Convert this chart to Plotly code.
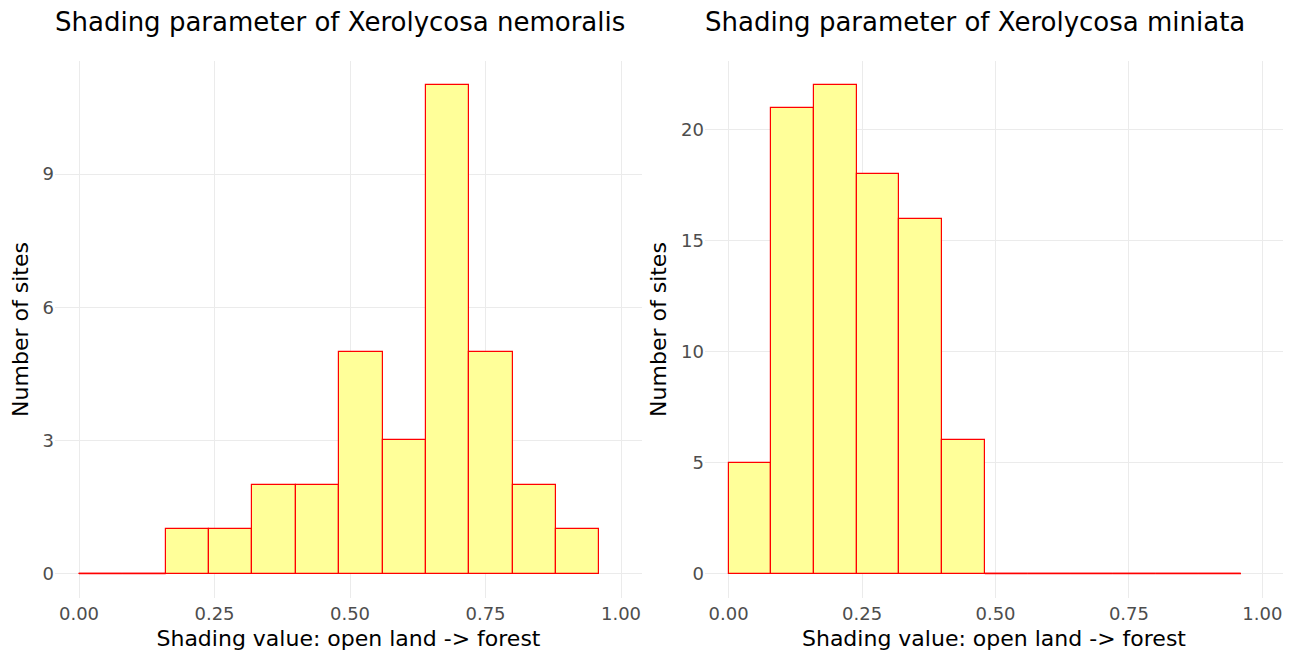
import plotly.graph_objects as go

bin_edges = [0.00, 0.08, 0.16, 0.24, 0.32, 0.40, 0.48, 0.56, 0.64, 0.72, 0.80, 0.88, 0.96]
nemoralis_counts = [0, 0, 1, 1, 2, 2, 5, 3, 11, 5, 2, 1]
miniata_counts = [5, 21, 22, 18, 16, 6, 0, 0, 0, 0, 0, 0]

titles = ["Shading parameter of Xerolycosa nemoralis", "Shading parameter of Xerolycosa miniata"]
x_title = "Shading value: open land -> forest"
y_title = "Number of sites"
x_ticks = [0, 0.25, 0.5, 0.75, 1.0]
x_ticklabels = ["0.00", "0.25", "0.50", "0.75", "1.00"]
y_ticks_left = [0, 3, 6, 9]
y_ticks_right = [0, 5, 10, 15, 20]

FONT = "DejaVu Sans"
fill = "rgb(255,255,153)"
edge = "red"

# page body has an 8px margin; build figure to fit inside the window
OFF = 8
W, H = 1291 - 2 * OFF, 659 - 2 * OFF


def px(x):
    return (x - OFF) / W


def py(y):
    return 1 - (y - OFF) / H


fig = go.Figure()

panels = [
    (nemoralis_counts, "x", "y"),
    (miniata_counts, "x2", "y2"),
]

for counts, xa, ya in panels:
    centers = [(bin_edges[i] + bin_edges[i + 1]) / 2 for i in range(len(counts))]
    widths = [bin_edges[i + 1] - bin_edges[i] for i in range(len(counts))]
    fig.add_trace(go.Bar(
        x=centers, y=counts, width=widths,
        marker=dict(color=fill, line=dict(color=edge, width=1.2)),
        xaxis=xa, yaxis=ya, showlegend=False, hoverinfo="x+y",
    ))
    # zero-count bins: ggplot draws their outline as a flat line at 0
    zx, zy = [], []
    for i, c in enumerate(counts):
        if c == 0:
            zx += [bin_edges[i], bin_edges[i + 1], None]
            zy += [0, 0, None]
    if zx:
        fig.add_trace(go.Scatter(
            x=zx, y=zy, mode="lines", line=dict(color=edge, width=1.5),
            xaxis=xa, yaxis=ya, showlegend=False, hoverinfo="skip",
        ))

ydom = [py(598), py(61)]
xdom1 = [px(55), px(642)]
xdom2 = [px(705), px(1283)]
xrange = [-0.0443, 1.0387]

axis_common = dict(
    showgrid=True, gridcolor="#ebebeb", gridwidth=1, zeroline=False,
    showline=False, ticks="", tickfont=dict(family=FONT, size=18, color="#4d4d4d"),
)
title_font = dict(family=FONT, size=22, color="black")

fig.update_layout(
    width=W, height=H,
    margin=dict(l=0, r=0, t=0, b=0),
    paper_bgcolor="white", plot_bgcolor="white",
    bargap=0,
    font=dict(family=FONT),
    xaxis=dict(domain=xdom1, range=xrange, tickvals=x_ticks, ticktext=x_ticklabels,
               anchor="y", ticklabelstandoff=3,
               title=dict(text=x_title, font=title_font, standoff=10),
               **axis_common),
    yaxis=dict(domain=ydom, range=[-0.55, 11.55], tickvals=y_ticks_left, anchor="x",
               title=dict(text=y_title, font=title_font, standoff=8),
               **axis_common),
    xaxis2=dict(domain=xdom2, range=xrange, tickvals=x_ticks, ticktext=x_ticklabels,
                anchor="y2", ticklabelstandoff=3,
                title=dict(text=x_title, font=title_font, standoff=10),
                **axis_common),
    yaxis2=dict(domain=ydom, range=[-1.1, 23.1], tickvals=y_ticks_right, anchor="x2",
                title=dict(text=y_title, font=title_font, standoff=8),
                **axis_common),
    annotations=[
        dict(text=titles[0], x=px(340), y=py(22), xref="paper", yref="paper",
             showarrow=False, font=dict(family=FONT, size=26, color="black"),
             xanchor="center", yanchor="middle"),
        dict(text=titles[1], x=px(975), y=py(22), xref="paper", yref="paper",
             showarrow=False, font=dict(family=FONT, size=26, color="black"),
             xanchor="center", yanchor="middle"),
    ],
)

fig.write_html("out.html")
